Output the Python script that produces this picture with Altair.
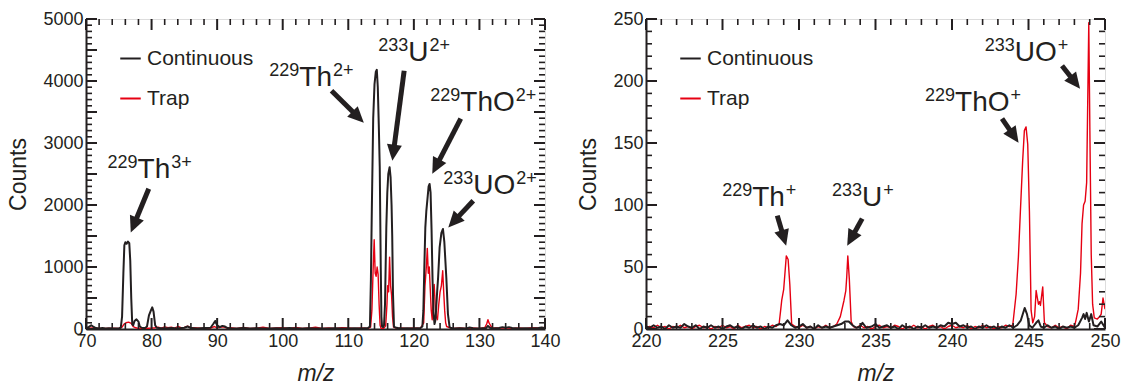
import math
import altair as alt
import pandas as pd

INK = "#231f20"
RED = "#e60012"
FONT = "Liberation Sans, Arial, sans-serif"
SERIES = ["Continuous", "Trap"]

# ---------------- data (m/z, counts) ----------------
L_CONT = [(70.0, 20), (70.4, 30), (70.8, 60), (71.1, 40), (71.5, 15), (72.0, 10), (72.5, 15), (73.0, 10),
          (73.5, 12), (74.0, 8), (74.5, 10), (75.0, 10), (75.3, 20), (75.5, 200), (75.7, 900), (75.85, 1350),
          (76.0, 1400), (76.2, 1375), (76.4, 1410), (76.6, 1385), (76.75, 1100), (76.9, 500), (77.05, 80),
          (77.2, 60), (77.4, 130), (77.7, 155), (78.0, 120), (78.2, 40), (78.5, 20), (79.0, 15), (79.3, 40),
          (79.6, 220), (79.9, 300), (80.1, 350), (80.3, 280), (80.55, 60), (80.8, 20), (81.2, 15), (82.0, 10),
          (83.0, 15), (84.0, 10), (85.0, 20), (85.5, 40), (86.0, 15), (87.0, 10), (88.0, 15), (89.0, 20),
          (89.4, 80), (89.7, 130), (90.0, 60), (90.4, 30), (90.8, 50), (91.2, 40), (91.6, 15), (92.0, 10),
          (93.0, 10), (94.0, 15), (95.0, 10), (96.0, 12), (97.0, 10), (98.0, 8), (99.0, 12), (100.0, 10),
          (101.0, 15), (102.0, 8), (103.0, 10), (104.0, 12), (105.0, 10), (106.0, 10), (107.0, 8), (108.0, 12),
          (109.0, 10), (110.0, 10), (111.0, 12), (112.0, 10), (113.0, 15), (113.3, 40), (113.45, 800),
          (113.6, 2000), (113.8, 3400), (114.0, 3950), (114.2, 4150), (114.35, 4180), (114.5, 3900),
          (114.65, 3300), (114.8, 2600), (114.95, 1000), (115.05, 200), (115.15, 40), (115.3, 30),
          (115.45, 60), (115.6, 400), (115.8, 1640), (115.95, 2200), (116.1, 2500), (116.3, 2610),
          (116.45, 2450), (116.6, 2000), (116.7, 1500), (116.82, 560), (116.97, 40), (117.3, 20), (117.6, 15),
          (118.0, 10), (119.0, 12), (120.0, 10), (121.0, 15), (121.3, 40), (121.45, 300), (121.6, 1000),
          (121.75, 1640), (121.9, 1900), (122.05, 2070), (122.25, 2300), (122.4, 2340), (122.55, 2200),
          (122.7, 1600), (122.85, 800), (123.0, 250), (123.15, 80), (123.3, 150), (123.55, 600), (123.7, 832),
          (123.93, 1317), (124.2, 1550), (124.44, 1613), (124.65, 1400), (124.95, 830), (125.2, 240),
          (125.45, 30), (125.7, 15), (126.0, 10), (127.0, 12), (128.0, 10), (128.5, 25), (129.0, 12),
          (130.0, 10), (131.0, 15), (131.3, 50), (131.6, 20), (132.0, 10), (133.0, 15), (133.5, 30),
          (134.0, 20), (134.5, 30), (135.0, 15), (136.0, 10), (137.0, 12), (138.0, 10), (139.0, 15),
          (139.5, 25), (140.0, 10)]

L_TRAP = [(70, 10), (71, 15), (72, 8), (73, 10), (74, 12), (75, 10), (75.5, 30), (75.8, 80), (76.1, 100),
          (76.5, 110), (76.9, 90), (77.2, 40), (77.6, 20), (78, 10), (79, 8), (80, 15), (80.5, 20), (81, 30),
          (81.5, 15), (82, 35), (82.5, 20), (83, 30), (83.5, 15), (84, 40), (84.5, 20), (85, 25), (85.5, 45),
          (86, 20), (87, 15), (88, 10), (89, 15), (89.6, 40), (90, 20), (90.5, 30), (91, 35), (91.5, 15),
          (92, 20), (93, 10), (94, 25), (95, 10), (96, 15), (97, 30), (98, 10), (99, 15), (100, 20), (101, 10),
          (102, 25), (103, 10), (104, 15), (105, 30), (106, 10), (107, 15), (108, 10), (109, 20), (110, 15),
          (111, 10), (112, 15), (113, 10), (113.4, 30), (113.6, 300), (113.8, 1000), (113.95, 1440),
          (114.1, 900), (114.25, 850), (114.4, 1000), (114.55, 880), (114.7, 400), (114.85, 60), (115.0, 10),
          (115.4, 10), (115.7, 50), (115.9, 400), (116.0, 700), (116.15, 600), (116.3, 1160), (116.45, 700),
          (116.6, 550), (116.75, 200), (116.9, 30), (117.5, 10), (118, 15), (119, 10), (120, 15), (121, 10),
          (121.5, 100), (121.7, 700), (121.9, 1000), (122.05, 1300), (122.2, 900), (122.35, 1000),
          (122.5, 650), (122.65, 300), (122.8, 150), (122.95, 500), (123.1, 720), (123.25, 400), (123.4, 200),
          (123.6, 150), (123.8, 400), (124.0, 600), (124.2, 700), (124.4, 940), (124.55, 600), (124.7, 300),
          (124.85, 100), (125, 40), (125.5, 20), (126, 10), (127, 15), (128, 10), (129, 15), (130, 10),
          (130.8, 20), (131.1, 80), (131.3, 150), (131.5, 90), (131.8, 40), (132, 20), (133, 15), (134, 20),
          (135, 10), (136, 15), (137, 10), (138, 20), (139, 15), (140, 25)]

R_CONT = [(220, 2), (220.25, 1), (220.5, 3), (220.75, 1), (221, 2), (221.25, 0), (221.5, 3), (221.75, 1),
          (222, 2), (222.25, 1), (222.5, 4), (222.75, 2), (223, 1), (223.25, 3), (223.5, 0), (223.75, 2),
          (224, 1), (224.25, 3), (224.5, 1), (224.75, 2), (225, 0), (225.25, 2), (225.5, 3), (225.75, 1),
          (226, 2), (226.25, 0), (226.5, 2), (226.75, 1), (227, 3), (227.25, 1), (227.5, 2), (227.75, 0),
          (228, 2), (228.25, 1), (228.5, 3), (228.75, 4), (229.0, 3), (229.25, 7), (229.5, 3), (229.75, 1),
          (230, 2), (230.25, 4), (230.5, 1), (230.75, 2), (231, 0), (231.25, 3), (231.5, 1), (231.75, 2),
          (232, 1), (232.25, 2), (232.5, 3), (232.75, 4), (233.0, 6), (233.25, 6), (233.5, 3), (233.75, 1),
          (234, 2), (234.15, 5), (234.4, 1), (234.75, 2), (235, 4), (235.25, 1), (235.5, 2), (235.75, 3),
          (236, 1), (236.25, 2), (236.5, 0), (236.75, 3), (237, 1), (237.25, 2), (237.5, 0), (237.75, 2),
          (238, 1), (238.25, 3), (238.5, 1), (238.75, 2), (239, 1), (239.25, 3), (239.5, 2), (239.75, 5),
          (240, 4), (240.25, 5), (240.5, 2), (240.75, 3), (241, 1), (241.25, 2), (241.5, 0), (241.75, 2),
          (242, 1), (242.25, 3), (242.5, 1), (242.75, 2), (243, 0), (243.25, 2), (243.5, 1), (243.75, 3),
          (244, 1), (244.25, 3), (244.5, 7), (244.75, 17), (244.9, 12), (245.05, 3), (245.25, 1), (245.5, 5),
          (245.65, 7), (245.8, 2), (246, 1), (246.25, 3), (246.5, 1), (246.75, 2), (247, 0), (247.25, 2),
          (247.5, 1), (247.75, 2), (248, 1), (248.25, 3), (248.5, 9), (248.6, 12), (248.7, 8), (248.8, 13),
          (248.95, 6), (249.1, 12), (249.25, 3), (249.5, 2), (249.75, 6), (250, 1)]

R_TRAP = [(220, 1), (220.25, 2), (220.5, 1), (220.75, 3), (221, 1), (221.25, 2), (221.5, 0), (221.75, 2),
          (222, 1), (222.25, 3), (222.5, 1), (222.75, 2), (223, 0), (223.25, 2), (223.5, 3), (223.75, 1),
          (224, 2), (224.25, 0), (224.5, 2), (224.75, 1), (225, 3), (225.25, 1), (225.5, 2), (225.75, 0),
          (226, 3), (226.25, 1), (226.5, 2), (226.75, 3), (227, 1), (227.25, 2), (227.5, 0), (227.75, 2),
          (228, 1), (228.25, 3), (228.5, 2), (228.7, 4), (228.8, 15), (228.87, 23), (229.0, 32), (229.17, 59),
          (229.29, 56), (229.4, 36), (229.52, 4), (229.75, 2), (230, 1), (230.25, 3), (230.5, 1), (230.75, 2),
          (231, 0), (231.25, 2), (231.5, 1), (231.75, 3), (232, 1), (232.25, 2), (232.47, 4), (232.7, 10),
          (232.94, 23), (233.06, 31), (233.12, 42), (233.19, 59), (233.29, 40), (233.41, 6), (233.55, 2),
          (233.75, 1), (234, 3), (234.25, 1), (234.5, 2), (234.75, 0), (235, 2), (235.25, 3), (235.5, 1),
          (235.75, 2), (236, 1), (236.25, 3), (236.5, 2), (236.75, 0), (237, 2), (237.25, 1), (237.5, 3),
          (237.75, 1), (238, 2), (238.25, 0), (238.5, 2), (238.75, 3), (239, 1), (239.25, 2), (239.5, 0),
          (239.75, 2), (240, 3), (240.25, 1), (240.5, 2), (240.75, 1), (241, 3), (241.25, 0), (241.5, 2),
          (241.75, 1), (242, 3), (242.25, 1), (242.5, 2), (242.75, 0), (243, 2), (243.25, 1), (243.5, 3),
          (243.75, 2), (243.97, 3), (244.19, 28), (244.34, 58), (244.47, 95), (244.62, 136), (244.73, 160),
          (244.84, 163), (244.95, 149), (245.06, 95), (245.17, 15), (245.28, 5), (245.4, 10), (245.5, 31),
          (245.58, 25), (245.65, 20), (245.72, 22), (245.78, 19), (245.93, 34), (246.04, 5), (246.25, 2),
          (246.5, 1), (246.75, 3), (247, 1), (247.25, 2), (247.5, 0), (247.75, 3), (248.0, 2), (248.1, 7),
          (248.25, 16), (248.4, 45), (248.5, 85), (248.6, 100), (248.7, 103), (248.8, 118), (248.94, 247),
          (249.02, 150), (249.1, 60), (249.19, 20), (249.3, 9), (249.5, 8), (249.65, 10), (249.75, 12),
          (249.87, 25), (250, 16)]

# ---------------- axes ----------------
L_XDOM, L_YDOM = [70, 140], [0, 5000]
L_XMAJ = [70, 80, 90, 100, 110, 120, 130, 140]
L_YMAJ = [0, 500, 1000, 1500, 2000, 2500, 3000, 3500, 4000, 4500, 5000]
R_XDOM, R_YDOM = [220, 250], [0, 250]
R_XMAJ = [220, 225, 230, 235, 240, 245, 250]
R_YMAJ = [0, 50, 100, 150, 200, 250]
L_XMIN_STEP, L_YMIN_STEP = 2, 100
R_XMIN_STEP, R_YMIN_STEP = 1, 10

# ---------------- annotations ----------------
L_MASS = ["229", "229", "233", "229", "233"]
L_SYM = ["Th", "Th", "U", "ThO", "UO"]
L_CHG = ["3+", "2+", "2+", "2+", "2+"]
L_LX = [77.86, 102.53, 119.15, 127.08, 129.06]
L_LY = [2440, 3924, 4327, 3521, 2182]
L_AX0 = [79.57, 107.44, 118.52, 127.15, 129.06]
L_AY0 = [2263, 3843, 4166, 3392, 2069]
L_AX1 = [76.83, 112.37, 116.72, 122.81, 125.25]
L_AY1 = [1558, 3327, 2715, 2505, 1639]

R_MASS = ["229", "233", "229", "233"]
R_SYM = ["Th", "U", "ThO", "UO"]
R_CHG = ["+", "+", "+", "+"]
R_LX = [226.94, 234.12, 240.2, 244.1]
R_LY = [99.4, 99.4, 176, 216]
R_AX0 = [228.58, 234.13, 243.27, 247.19]
R_AY0 = [91.4, 89, 169.6, 212.3]
R_AX1 = [229.16, 233.15, 244.35, 248.37]
R_AY1 = [67.2, 67.2, 150.2, 193.8]

W, H = 459, 310
MAIN_FS, SUP_FS = 28, 18
MAJ_T, MIN_T = 11, 6
ARIAL_W = {"T": 0.611, "h": 0.556, "U": 0.722, "O": 0.778}
HEAD = "M0,0 L0.75,1.6 L-0.75,1.6 Z"


def minor(dom, step, maj):
    out, v = [], dom[0]
    while v <= dom[1] + 1e-9:
        if all(abs(v - m) > 1e-9 for m in maj):
            out.append(round(v, 6))
        v += step
    return out


def series_df(cont, trap):
    rows = [{"mz": a, "counts": b, "series": "Continuous"} for a, b in cont]
    rows += [{"mz": a, "counts": b, "series": "Trap"} for a, b in trap]
    return pd.DataFrame(rows)


def panel(cont, trap, xdom, ydom, xmaj, ymaj, xstep, ystep, mass, sym, chg, lx, ly, ax0, ay0, ax1, ay1):
    xs = alt.Scale(domain=xdom, nice=False, zero=False)
    ys = alt.Scale(domain=ydom, nice=False, zero=False)
    xr, yr = xdom[1] - xdom[0], ydom[1] - ydom[0]
    df = series_df(cont, trap)
    color = alt.Color("series:N", scale=alt.Scale(domain=SERIES, range=[INK, RED]),
                      legend=alt.Legend(orient="none", legendX=33, legendY=28, title=None,
                                        symbolType="stroke", symbolSize=420, symbolStrokeWidth=2,
                                        labelFontSize=21, labelFont=FONT, labelColor=INK,
                                        labelOffset=5, rowPadding=18, padding=0))
    xaxis = alt.Axis(orient="bottom", values=xmaj, ticks=False, domainWidth=2, domainColor=INK,
                     labelFontSize=18, labelFont=FONT, labelColor=INK, labelPadding=3, labelOverlap=False,
                     labelFlush=False, format="d", title="m/z", titleFontSize=23, titleFont=FONT,
                     titleFontStyle="italic", titleFontWeight="normal", titleColor=INK, titlePadding=12,
                     grid=False)
    yaxis = alt.Axis(orient="left", values=ymaj, ticks=False, domainWidth=2, domainColor=INK,
                     labelFontSize=18, labelFont=FONT, labelColor=INK, labelPadding=3, labelOverlap=False,
                     labelFlush=False, format="d", title="Counts", titleFontSize=23, titleFont=FONT,
                     titleFontWeight="normal", titleColor=INK, titlePadding=12, grid=False)
    trap_l = alt.Chart(df[df.series == "Trap"]).mark_line(clip=True, strokeWidth=1.4, strokeJoin="round").encode(
        x=alt.X("mz:Q", scale=xs, axis=xaxis), y=alt.Y("counts:Q", scale=ys, axis=yaxis), color=color)
    cont_l = alt.Chart(df[df.series == "Continuous"]).mark_line(clip=True, strokeWidth=2, strokeJoin="round").encode(
        x=alt.X("mz:Q", scale=xs), y=alt.Y("counts:Q", scale=ys), color=color)

    # inward-pointing ticks on all four edges, drawn as segments in data units
    def xtick_rows(vals, ln):
        h = ln / H * yr
        out = []
        for v in vals:
            out.append({"ta": v, "tb": v, "tc": ydom[0], "td": ydom[0] + h})
            out.append({"ta": v, "tb": v, "tc": ydom[1], "td": ydom[1] - h})
        return out

    def ytick_rows(vals, ln):
        w = ln / W * xr
        out = []
        for v in vals:
            out.append({"ta": xdom[0], "tb": xdom[0] + w, "tc": v, "td": v})
            out.append({"ta": xdom[1], "tb": xdom[1] - w, "tc": v, "td": v})
        return out

    maj_df = pd.DataFrame(xtick_rows(xmaj, MAJ_T) + ytick_rows(ymaj, MAJ_T))
    min_df = pd.DataFrame(xtick_rows(minor(xdom, xstep, xmaj), MIN_T) + ytick_rows(minor(ydom, ystep, ymaj), MIN_T))
    tick_maj = alt.Chart(maj_df).mark_rule(color=INK, strokeWidth=2).encode(
        x=alt.X("ta:Q", scale=xs), x2="tb:Q", y=alt.Y("tc:Q", scale=ys), y2="td:Q")
    tick_min = alt.Chart(min_df).mark_rule(color=INK, strokeWidth=1.6).encode(
        x=alt.X("ta:Q", scale=xs), x2="tb:Q", y=alt.Y("tc:Q", scale=ys), y2="td:Q")

    # arrows
    arows = []
    for x0, y0, x1, y1 in zip(ax0, ay0, ax1, ay1):
        px0, py0 = (x0 - xdom[0]) / xr * W, H - (y0 - ydom[0]) / yr * H
        px1, py1 = (x1 - xdom[0]) / xr * W, H - (y1 - ydom[0]) / yr * H
        dx, dy = px1 - px0, py1 - py0
        ln = math.hypot(dx, dy)
        ex, ey = px1 - dx / ln * 12, py1 - dy / ln * 12
        arows.append({"x0": x0, "y0": y0, "xe": xdom[0] + ex / W * xr, "ye": ydom[0] + (H - ey) / H * yr,
                      "x1": x1, "y1": y1, "ang": math.degrees(math.atan2(dx, -dy)) % 360})
    adf = pd.DataFrame(arows)
    shaft = alt.Chart(adf).mark_rule(strokeWidth=5, color=INK, strokeCap="butt").encode(
        x=alt.X("x0:Q", scale=xs), y=alt.Y("y0:Q", scale=ys), x2="xe:Q", y2="ye:Q")
    head = alt.Chart(adf).mark_point(shape=HEAD, filled=True, color=INK, opacity=1, size=400, strokeWidth=0).encode(
        x=alt.X("x1:Q", scale=xs), y=alt.Y("y1:Q", scale=ys),
        angle=alt.Angle("ang:Q", scale=None))

    # labels
    lrows = []
    for m, s, c, x, y in zip(mass, sym, chg, lx, ly):
        wpx = sum(ARIAL_W.get(ch, 0.6) for ch in s) * MAIN_FS + 1
        lrows.append({"mass": m, "sym": s, "chg": c, "x": x, "y": y, "xc": x + wpx / W * xr})
    ldf = pd.DataFrame(lrows)
    tmass = alt.Chart(ldf).mark_text(align="right", baseline="alphabetic", dy=-10, fontSize=SUP_FS, font=FONT,
                                     color=INK).encode(
        x=alt.X("x:Q", scale=xs), y=alt.Y("y:Q", scale=ys), text="mass:N")
    tsym = alt.Chart(ldf).mark_text(align="left", baseline="alphabetic", fontSize=MAIN_FS, font=FONT,
                                    color=INK).encode(
        x=alt.X("x:Q", scale=xs), y=alt.Y("y:Q", scale=ys), text="sym:N")
    tchg = alt.Chart(ldf).mark_text(align="left", baseline="alphabetic", dy=-10, fontSize=SUP_FS, font=FONT,
                                    color=INK).encode(
        x=alt.X("xc:Q", scale=xs), y=alt.Y("y:Q", scale=ys), text="chg:N")

    return alt.layer(trap_l, cont_l, tick_maj, tick_min, shaft, head, tmass, tsym, tchg).properties(
        width=W, height=H)


left = panel(L_CONT, L_TRAP, L_XDOM, L_YDOM, L_XMAJ, L_YMAJ, L_XMIN_STEP, L_YMIN_STEP,
             L_MASS, L_SYM, L_CHG, L_LX, L_LY, L_AX0, L_AY0, L_AX1, L_AY1)
right = panel(R_CONT, R_TRAP, R_XDOM, R_YDOM, R_XMAJ, R_YMAJ, R_XMIN_STEP, R_YMIN_STEP,
              R_MASS, R_SYM, R_CHG, R_LX, R_LY, R_AX0, R_AY0, R_AX1, R_AY1)

chart = alt.HConcatChart(hconcat=[left, right], spacing=101, bounds="flush",
                         padding={"left": 7, "top": 9, "right": 0, "bottom": 0}).resolve_legend(
    color="independent").configure_view(stroke=INK, strokeWidth=2).configure(background="white")

chart.save("out.html", embed_options={"renderer": "svg", "actions": False})
